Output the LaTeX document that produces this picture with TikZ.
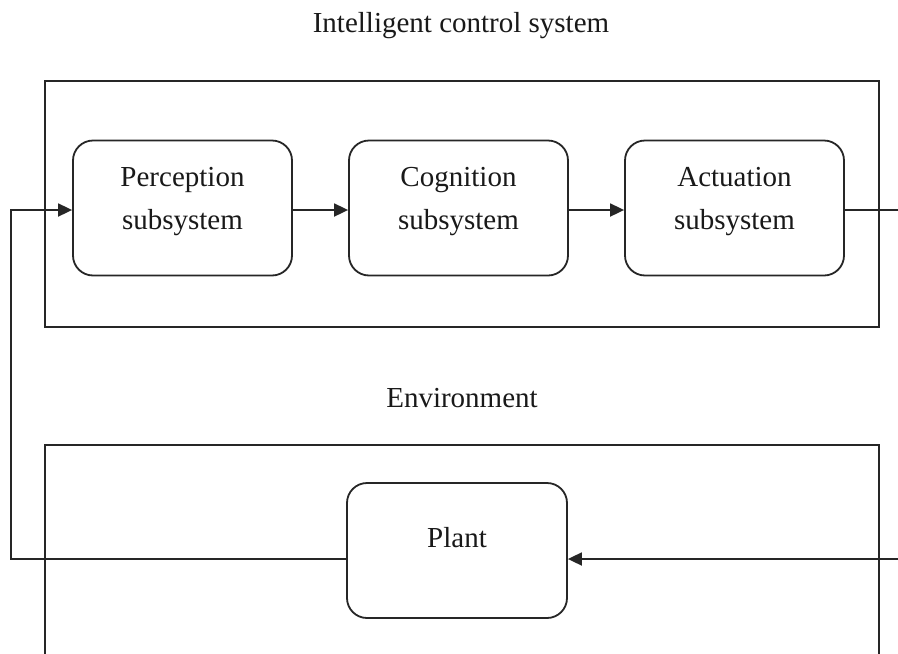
\documentclass[tikz,border=0pt]{standalone}
\usepackage{fontspec}
\setmainfont{Liberation Serif}
\usetikzlibrary{arrows.meta}
\begin{document}
\begin{tikzpicture}[x=1pt,y=-1pt,
  line width=1.8pt,
  every node/.style={font=\fontsize{29}{43}\selectfont, text=black!90},
  lbl/.style={anchor=base, inner sep=0pt},
  sub/.style={draw=black!85, rounded corners=20pt, minimum width=219pt, minimum height=135pt, align=center, text depth=19pt, inner sep=0pt},
  frame/.style={draw=black!85},
  arr/.style={draw=black!85, -{Triangle[length=14pt,width=13pt]}},
  ln/.style={draw=black!85}]
\useasboundingbox (0,0) rectangle (898,654);
\fill[white] (0,0) rectangle (898,654);
% frames
\draw[frame] (45,81) rectangle (879,327);
\draw[frame] (45,660) |- (879,445) -- (879,660);
% titles
\node[lbl] (title) at (461,32) {Intelligent control system};
\node[lbl] (env) at (462,407) {Environment};
% boxes
\node[sub] (perc) at (182.5,208) {Perception\\subsystem};
\node[sub] (cogn) at (458.5,208) {Cognition\\subsystem};
\node[sub] (actu) at (734.5,208) {Actuation\\subsystem};
\node[sub, minimum width=220pt, text depth=27pt] (plant) at (457,550.5) {Plant};
% free ends
\coordinate (outR) at (898,210);
\coordinate (inR) at (898,559);
\coordinate (loopL) at (11,559);
% connectors
\draw[arr] ([yshift=-2pt]perc.east) -- ([yshift=-2pt]cogn.west);
\draw[arr] ([yshift=-2pt]cogn.east) -- ([yshift=-2pt]actu.west);
\draw[ln] ([yshift=-2pt]actu.east) -- (outR);
\draw[arr] (inR) -- ([yshift=-8.5pt]plant.east);
\draw[arr] ([yshift=-8.5pt]plant.west) -- (loopL) |- ([yshift=-2pt]perc.west);
\end{tikzpicture}
\end{document}
